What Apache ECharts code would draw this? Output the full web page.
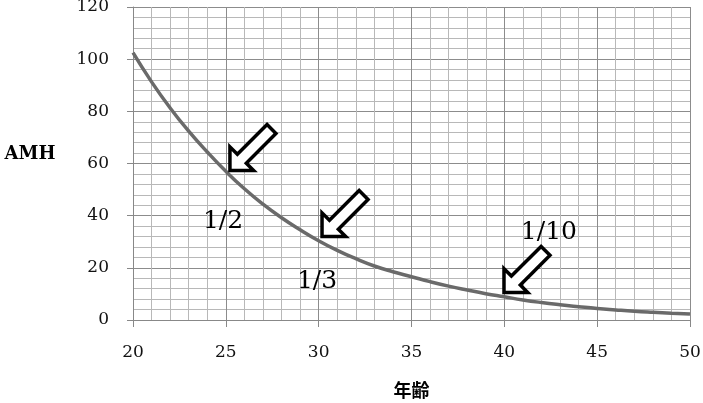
<!DOCTYPE html>
<html>
<head>
<meta charset="utf-8">
<script src="https://cdn.jsdelivr.net/npm/echarts@6/dist/echarts.min.js"></script>
<style>
html, body { margin: 0; padding: 0; background: #fff; }
#container { width: 703px; height: 403px; }
</style>
</head>
<body>
<div id="container"></div>
<script>
var dom = document.getElementById('container');
var myChart = echarts.init(dom);

// age (years) and AMH
var ages = [20, 21, 22, 23, 24, 25, 26, 27, 28, 29, 30, 31, 32, 33, 34, 35,
            36, 37, 38, 39, 40, 41, 42, 43, 44, 45, 46, 47, 48, 49, 50];
var amh = [102.5, 91.3, 81.3, 72.4, 64.4, 57, 50.3, 44.4, 39.2, 34.6, 30.4, 26.7, 23.5, 20.7, 18.5, 16.6,
           14.7, 13, 11.5, 10.1, 8.9, 7.7, 6.7, 5.85, 5.1, 4.4, 3.85, 3.35, 2.95, 2.6, 2.3];

// annotations: arrow centres and ratio labels (data coords)
var arrowAt = [[26.46, 66.1], [31.42, 40.8], [41.22, 19.4]];
var ratioText = ['1/2', '1/3', '1/10'];
var ratioAt = [[24.85, 37.6], [29.91, 14.6], [42.4, 33.4]];

var arrowPath = 'path://M0,0 L0,-22.6 L7.07,-15.56 L35.36,-43.84 L43.84,-35.36 L15.56,-7.07 L22.6,0 Z';
var serif = 'DejaVu Serif';

var points = ages.map(function (a, i) { return [a, amh[i]]; });

var marks = arrowAt.map(function (c) {
  return {
    coord: c,
    symbol: arrowPath,
    symbolSize: [46, 46],
    itemStyle: { color: '#fff', borderColor: '#000', borderWidth: 3.5 },
    label: { show: false }
  };
});
ratioAt.forEach(function (c, i) {
  marks.push({
    coord: c,
    symbol: 'circle',
    symbolSize: 1,
    itemStyle: { color: 'rgba(0,0,0,0)', borderWidth: 0 },
    label: {
      show: true, position: 'inside', formatter: ratioText[i],
      fontFamily: serif, fontSize: 25, color: '#000'
    }
  });
});

var option = {
  backgroundColor: '#fff',
  animation: false,
  grid: { left: 133, right: 13, top: 7, bottom: 83, containLabel: false, outerBoundsMode: 'none' },
  xAxis: {
    type: 'value', min: 20, max: 50, interval: 5,
    name: '年齢', nameLocation: 'middle', nameGap: 70,
    nameTextStyle: { fontFamily: 'Noto Sans CJK JP', fontWeight: 'bold', fontSize: 18, color: '#000', verticalAlign: 'middle' },
    axisLine: { show: true, lineStyle: { color: '#888', width: 1 } },
    axisTick: { show: true, length: 7, lineStyle: { color: '#888' } },
    axisLabel: { margin: 24, fontFamily: serif, fontSize: 17, color: '#111' },
    splitLine: { show: true, lineStyle: { color: '#8c8c8c', width: 1 } },
    minorTick: { show: false, splitNumber: 5 },
    minorSplitLine: { show: true, lineStyle: { color: '#b8b8b8', width: 1 } }
  },
  yAxis: {
    type: 'value', min: 0, max: 120, interval: 20,
    name: 'AMH', nameLocation: 'middle', nameGap: 103, nameRotate: 0,
    nameTextStyle: { fontFamily: serif, fontWeight: 'bold', fontSize: 18, color: '#000', align: 'center', verticalAlign: 'bottom' },
    axisLine: { show: true, lineStyle: { color: '#888', width: 1 } },
    axisTick: { show: true, length: 6, lineStyle: { color: '#888' } },
    axisLabel: { margin: 24, fontFamily: serif, fontSize: 17, color: '#111' },
    splitLine: { show: true, lineStyle: { color: '#8c8c8c', width: 1 } },
    minorTick: { show: false, splitNumber: 5 },
    minorSplitLine: { show: true, lineStyle: { color: '#b8b8b8', width: 1 } }
  },
  series: [{
    type: 'line',
    data: points,
    smooth: true,
    showSymbol: false,
    lineStyle: { color: '#6a6a6a', width: 3.5 },
    markPoint: { data: marks, animation: false }
  }]
};

myChart.setOption(option);
</script>
</body>
</html>
